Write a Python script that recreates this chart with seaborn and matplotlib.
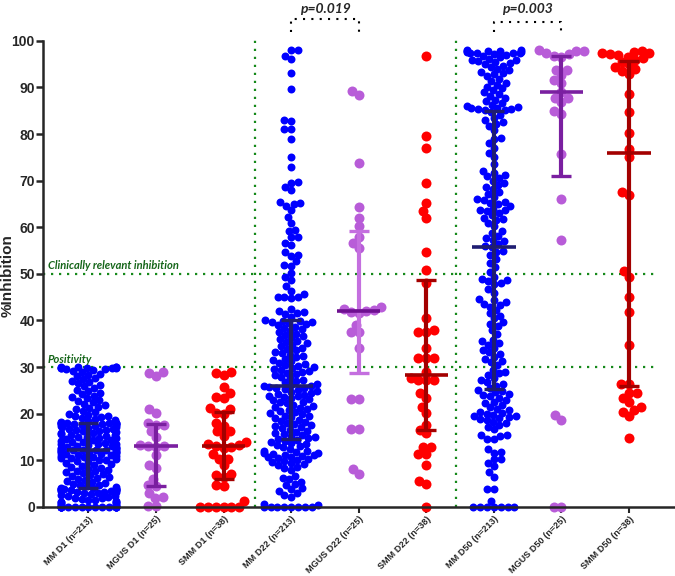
import warnings
import numpy as np
import pandas as pd
import seaborn as sns
import matplotlib.pyplot as plt
from matplotlib.markers import MarkerStyle
from matplotlib.transforms import Affine2D

warnings.filterwarnings("ignore")

groups = ["MM D1 (n=213)", "MGUS D1 (n=25)", "SMM D1 (n=38)",
          "MM D22 (n=213)", "MGUS D22 (n=25)", "SMM D22 (n=38)",
          "MM D50 (n=213)", "MGUS D50 (n=25)", "SMM D50 (n=38)"]

mm_d1 = [0, 0, 0, 0, 0, 0, 0, 0, 0, 0, 0, 0, 0, 0, 0, 0, 0, 0,
         0.2, 0.3, 0.5, 0.6, 0.8, 1.0, 1.0, 1.1, 1.2, 1.4, 1.5, 1.7, 1.8, 2.0, 2.1,
         2.3, 2.4, 2.6, 2.7, 2.9, 3.0, 3.1, 3.2, 3.3, 3.4, 3.5, 3.6, 3.6, 3.7, 3.7,
         3.8, 3.8, 3.8, 3.9, 3.9,
         4.0, 4.1, 4.2, 4.4, 4.6, 4.8, 5.0, 5.2, 5.4, 5.6, 5.8, 6.0, 6.2, 6.4, 6.6,
         6.8, 7.0, 7.2, 7.4, 7.6, 7.8, 8.0, 8.2, 8.4, 8.6, 8.8, 9.0, 9.2, 9.4, 9.6,
         9.8, 10.0, 10.1, 10.2, 10.4, 10.5, 10.6, 10.8, 10.9, 11.0, 11.1, 11.2, 11.3,
         11.4, 11.5, 11.6, 11.7, 11.8, 11.9, 12.0, 12.0, 12.1, 12.1,
         12.2,
         12.3, 12.4, 12.5, 12.6, 12.7, 12.8, 12.9, 13.0, 13.1, 13.2, 13.4, 13.5, 13.6,
         13.8, 13.9, 14.0, 14.2, 14.3, 14.4, 14.6, 14.7, 14.8, 15.0, 15.1, 15.2, 15.4,
         15.5, 15.6, 15.8, 15.9, 16.0, 16.2, 16.3, 16.4, 16.6, 16.7, 16.8, 17.0, 17.1,
         17.2, 17.3, 17.4, 17.5, 17.6, 17.7, 17.7, 17.8, 17.8, 17.9, 17.9, 17.9, 18.0, 18.0,
         18.1, 18.2, 18.4, 18.6, 18.8, 19.0, 19.2, 19.4, 19.6, 19.8, 20.0, 20.3, 20.6,
         20.9, 21.2, 21.5, 21.8, 22.1, 22.4, 22.7, 23.0, 23.3, 23.6, 23.9, 24.2, 24.5,
         24.8, 25.1, 25.5, 25.9, 26.2, 26.5, 26.8, 27.1, 27.4, 27.7, 28.0, 28.3, 28.6,
         28.9, 29.1, 29.3, 29.5, 29.6, 29.7, 29.8, 29.8, 29.9, 29.9, 30.0, 30.0, 30.0, 30.0]

mgus_d1 = [29.0, 28.7, 28.1, 21.0, 20.2, 17.9, 17.6, 17.6, 16.2, 15.0, 13.3, 13.1, 13.0,
           12.9, 11.2, 9.0, 8.4, 6.0, 4.6, 4.5, 2.9, 2.2, 1.8, 0.2, 0.2]

smm_d1 = [29.0, 28.7, 28.4, 25.8, 24.4, 23.6, 23.4, 21.2, 21.0, 20.2, 20.0, 17.9, 17.4,
          16.2, 16.2, 15.2, 14.0, 13.4, 13.2, 13.0, 12.8, 12.6, 11.4, 10.3, 10.3, 9.0,
          7.0, 6.8, 6.5, 4.6, 4.4, 1.3, 0, 0, 0, 0, 0, 0]

mm_d22 = [0, 0, 0, 0, 0, 0, 0, 0, 0.3, 0.6,
          2.2, 2.5, 3.0, 3.4, 3.8, 4.0, 4.6, 5.0, 5.4, 5.9, 6.3, 6.6,
          8.0, 8.3, 8.6, 8.9, 9.2, 9.4, 9.6, 9.8, 10.0, 10.2, 10.4, 10.6, 10.8, 11.0,
          11.1, 11.2, 11.4, 11.5, 11.6, 11.8, 11.9, 12.0,
          12.4, 12.8, 13.0, 13.2, 13.5, 13.8, 14.0, 14.2, 14.4,
          14.6, 14.8, 15.0, 15.2, 15.4, 15.6, 15.9, 16.1, 16.3, 16.6, 16.9, 17.1, 17.3,
          17.5, 17.7, 18.0, 18.2, 18.4, 18.7, 19.0, 19.2, 19.4, 19.6, 19.9, 20.1, 20.3,
          20.6, 20.8, 21.0, 21.3, 21.5, 21.7, 21.9, 22.2, 22.4, 22.6, 22.9, 23.1, 23.3,
          23.5, 23.7, 23.9, 24.1, 24.3, 24.5, 24.7, 24.9, 25.1, 25.3, 25.5, 25.6, 25.8, 25.9,
          26.0,
          26.1, 26.4, 26.7, 27.0, 27.3, 27.6, 27.9, 28.2, 28.5, 28.8, 29.0, 29.2, 29.4,
          29.6, 29.8, 30.0, 30.2, 30.4, 30.6, 30.9, 31.2, 31.5, 31.8, 32.1, 32.4, 32.7,
          33.0, 33.3, 33.6, 33.9, 34.2, 34.5, 34.8, 35.1, 35.4, 35.7, 36.0, 36.3, 36.6,
          36.9, 37.2, 37.5, 37.8, 38.1, 38.4, 38.7, 39.0, 39.2, 39.4, 39.6, 39.7, 39.8, 39.9,
          40.2, 40.8, 41.3, 41.6, 41.8, 42.0, 42.4,
          44.8, 45.1, 45.1, 45.1, 45.6, 46.3, 47.3, 48.7, 49.4, 50.1, 51.8, 51.9, 52.7,
          53.9, 54.1, 54.6, 56.1, 56.7, 58.0, 58.0, 59.3, 59.4, 61.0, 62.2, 63.7, 64.6,
          65.0, 65.3, 65.4, 68.0, 68.7, 69.6, 69.8, 73.0, 75.0, 79.0, 81.0, 81.0, 82.8,
          83.0, 89.6, 93.1, 96.1, 96.8, 98.0, 98.0]

mgus_d22 = [89.3, 88.4, 73.7, 64.4, 62.1, 60.2, 58.0, 56.7, 55.6, 43.0, 42.5, 42.2, 42.0,
            41.8, 41.5, 39.0, 37.5, 37.5, 34.2, 23.1, 23.1, 16.7, 16.7, 8.1, 7.1]

smm_d22 = [96.8, 79.5, 77.0, 69.6, 65.3, 63.4, 61.9, 54.6, 50.9, 48.0, 40.6, 38.0, 37.6,
           37.5, 34.0, 32.0, 32.0, 32.0, 29.0, 27.6, 27.3, 27.3, 27.3, 24.4, 23.4, 21.5,
           20.1, 17.6, 16.6, 15.8, 12.9, 12.9, 11.4, 11.4, 9.0, 5.6, 5.0, 0]

mm_d50 = [0, 0, 0, 0, 0, 0, 0, 1.3, 3.8, 3.9, 6.5, 7.4, 8.8, 9.5, 10.2, 10.3, 11.6, 11.7,
          12.4, 14.5, 14.6, 15.2, 15.4, 15.5, 16.7,
          17.2, 17.6, 18.0, 18.3, 18.6, 18.8, 19.0, 19.2, 19.4, 19.6, 19.8, 20.0, 20.2,
          20.4, 20.7, 21.0, 21.4, 21.8, 22.2, 22.6, 23.0, 23.4, 23.7, 24.0, 24.3, 24.6,
          24.8, 25.0,
          25.5, 26.0, 26.4, 26.8, 27.2, 27.7, 28.2, 28.7, 29.0, 29.4, 30.5, 31.0, 31.4,
          31.8, 32.2, 32.8, 33.2, 33.7, 34.2, 34.7, 35.2, 35.6, 35.9, 37.0, 38.0, 38.8,
          39.3, 39.7, 40.5, 41.0, 41.6, 42.2, 43.0, 43.3, 43.6, 44.0, 44.3, 44.6, 45.9,
          46.7, 47.8, 48.1, 48.4, 48.7, 49.0, 49.3, 50.5, 51.5, 52.4, 53.2, 54.0, 54.6, 55.0,
          55.7,
          56.0, 56.4, 57.0, 57.3, 57.8, 58.2, 58.8, 59.3, 60.2, 60.9, 61.5, 61.8, 62.0,
          62.6, 63.1, 63.4, 63.7, 63.7, 64.0, 64.5, 65.0, 65.2, 65.5, 65.9, 66.0, 66.6,
          67.1, 67.6, 68.2, 68.7, 69.1, 69.4, 70.0, 70.5, 70.9, 71.2, 71.7, 72.0, 73.5,
          75.0, 76.0, 77.0, 78.0, 78.9, 79.2, 80.9, 81.8, 82.2, 82.6, 83.0, 83.5, 84.2, 84.8,
          85.1, 85.2, 85.3, 85.4, 85.5, 85.6, 85.8, 86.0, 86.2, 86.6, 87.0, 87.4, 87.8,
          88.2, 88.6, 89.0, 89.4, 89.8, 90.2, 90.6, 91.0, 91.5, 91.9, 92.5, 92.8, 93.1,
          93.4, 93.7, 94.0, 94.4, 94.7, 95.0, 95.3, 95.5, 95.6, 95.8, 96.0, 96.2, 96.5,
          96.8, 97.0, 97.2, 97.3, 97.4, 97.5, 97.5, 97.6, 97.7, 97.8, 97.8, 97.9, 98.0, 98.0]

mgus_d50 = [98.0, 97.8, 97.8, 97.4, 97.2, 96.8, 96.6, 93.8, 93.8, 92.7, 91.6, 91.0, 89.0,
            87.8, 87.8, 86.9, 85.0, 84.3, 75.8, 66.0, 57.3, 19.7, 18.7, 0, 0]

smm_d50 = [97.9, 97.7, 97.5, 97.3, 97.1, 96.9, 96.6, 96.3, 96.0, 95.5, 95.0, 94.5, 94.0,
           93.5, 93.0, 88.6, 84.8, 80.2, 76.8, 75.1, 67.6, 67.0, 50.6, 49.4, 45.0, 41.9,
           34.8, 26.4, 26.4, 24.5, 24.5, 23.4, 22.5, 21.5, 20.8, 20.4, 19.5, 14.8]

values = [mm_d1, mgus_d1, smm_d1, mm_d22, mgus_d22, smm_d22, mm_d50, mgus_d50, smm_d50]

point_colors = ["#0000ff", "#b85cd8", "#ff0000"] * 3
bar_colors = ["#1f1d72", "#7a1fa0", "#a30000",
              "#1f1d72", "#c46fdf", "#a30000",
              "#1f1d72", "#7a1fa0", "#a30000"]
median_colors = ["#1f1d72", "#7a1fa0", "#a30000",
                 "#1f1d72", "#6e1090", "#a30000",
                 "#1f1d72", "#7a1fa0", "#a30000"]

df = pd.DataFrame({
    "group": np.repeat(groups, [len(v) for v in values]),
    "value": np.concatenate(values),
})

sns.set_style("ticks")
plt.rcParams["font.family"] = ["Liberation Sans", "DejaVu Sans"]

fig = plt.figure(figsize=(6.75, 5.76), dpi=100)
ax = fig.add_axes([0.064, 0.12, 0.936, 0.809])

green = "#15891a"
green_txt = "#16661a"

# swarms: lay out with a slightly smaller nominal size, draw bigger so crowded rows overlap
for i, g in enumerate(groups):
    big = g.startswith("MM")
    size = 4.7 if big else 5.4
    scale = 1.22 if big else 1.33
    sns.swarmplot(
        data=df[df.group == g], x="group", y="value", order=groups,
        color=point_colors[i], size=size, linewidth=0,
        marker=MarkerStyle("o", transform=Affine2D().scale(scale)),
        clip_on=False, zorder=2, ax=ax,
    )

# median with interquartile range
for i, vals in enumerate(values):
    q1, med, q3 = np.percentile(vals, [25, 50, 75], method="weibull")
    ax.errorbar(i, med, yerr=[[med - q1], [q3 - med]], fmt="none",
                ecolor=bar_colors[i], elinewidth=3, capsize=7.5, capthick=2.4,
                zorder=4, clip_on=False)
    ax.hlines(med, i - 0.32, i + 0.32, color=median_colors[i], lw=2.6, zorder=5)

# reference lines
dots = (0, (1, 2.6))
ax.hlines([30, 50], -0.67, 8.39, colors=green, linestyles=dots, lw=1.6, zorder=1)
ax.vlines([2.47, 5.44], 0, 100.9, colors=green, linestyles=dots, lw=1.6,
          zorder=1, clip_on=False)
ax.text(-0.6, 51.8, "Clinically relevant inhibition", color=green_txt, family="Lato",
        fontstyle="italic", fontweight="bold", fontsize=8, va="center")
ax.text(-0.6, 31.6, "Positivity", color=green_txt, family="Lato",
        fontstyle="italic", fontweight="bold", fontsize=8, va="center")

# significance brackets
for x0, x1, ytop, label in [(3, 4, 104.7, "p=0.019"), (6, 7, 104.0, "p=0.003")]:
    ax.plot([x0, x0, x1, x1], [102.0, ytop, ytop, 102.0], color="black",
            ls=(0, (1, 3)), lw=1.5, clip_on=False)
    ax.text((x0 + x1) / 2, 106.8, label, ha="center", va="center", family="Lato",
            fontstyle="italic", fontweight="bold", fontsize=10, clip_on=False)

ax.set_xlim(-0.67, 8.68)
ax.set_ylim(0, 100)
ax.set_yticks(range(0, 101, 10))
ax.set_xticks(range(len(groups)))
ax.set_xticklabels(groups, rotation=45, ha="right", rotation_mode="anchor",
                   fontweight="bold", fontsize=6.6)
for lab in ax.get_yticklabels():
    lab.set_fontweight("bold")
ax.tick_params(axis="y", length=5, width=1.8, labelsize=10, pad=1)
ax.tick_params(axis="x", length=4, width=1.5, pad=1.5)
ax.set_xlabel("")
ax.set_ylabel("%Inhibition", fontweight="bold", fontsize=11)
ax.yaxis.set_label_coords(-0.045, 0.496)
sns.despine(ax=ax)
for side in ["left", "bottom"]:
    ax.spines[side].set_linewidth(1.8)

fig.savefig("out.png", dpi=100, facecolor="white")
